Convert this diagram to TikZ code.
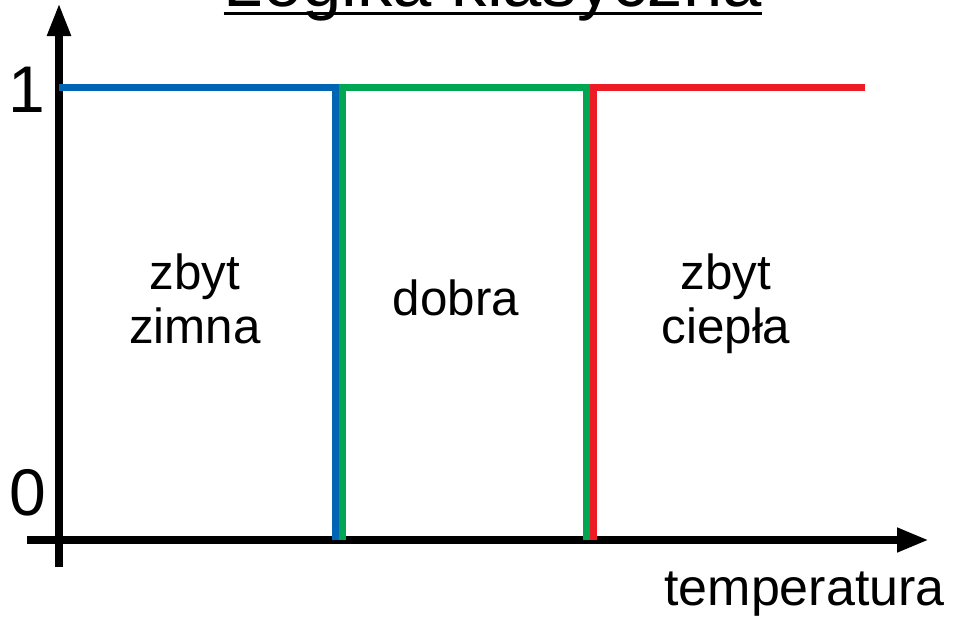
\documentclass[tikz,border=0pt]{standalone}
\usepackage{fontspec}
\setmainfont{Liberation Sans}
\usetikzlibrary{arrows.meta,calc}
\definecolor{cblue}{RGB}{0,102,179}
\definecolor{cgreen}{RGB}{0,166,81}
\definecolor{cred}{RGB}{237,28,36}
\begin{document}
\begin{tikzpicture}[x=0.75pt,y=-0.75pt,
  axis/.style={line width=6pt},
  curve/.style={line width=5.25pt, line join=miter},
  lbl/.style={inner sep=0pt, font=\fontsize{37}{40.5}\selectfont, align=center},
  num/.style={inner sep=0pt, font=\fontsize{49.5}{50}\selectfont}]
\useasboundingbox (0,0) rectangle (954,622);
% axes
\coordinate (ybot) at (59,567);
\coordinate (ytop) at (59,3);
\coordinate (xl) at (27,540);
\coordinate (xr) at (929,540);
\draw[axis,-{Triangle[length=24.75pt,width=16.5pt]}] (ybot) -- (ytop);
\draw[axis,-{Triangle[length=24pt,width=17pt]}] (xl) -- (xr);
% membership functions
\coordinate (b1) at (59,87);
\coordinate (b2) at (335,87);
\coordinate (b3) at (335,540);
\coordinate (g1) at (342,540);
\coordinate (g2) at (342,87);
\coordinate (g3) at (586,87);
\coordinate (g4) at (586,540);
\coordinate (r1) at (593,540);
\coordinate (r2) at (593,87);
\coordinate (r3) at (865,87);
\draw[curve,cblue] (b1) -- (b2) -- (b3);
\draw[curve,cgreen] (g1) -- (g2) -- (g3) -- (g4);
\draw[curve,cred] (r1) -- (r2) -- (r3);
% labels
\node[lbl, anchor=north] (zimna) at (195,253) {zbyt\\zimna};
\node[lbl, anchor=base] (dobra) at (456,315) {dobra};
\node[lbl, anchor=north] (ciepla) at (726,253) {zbyt\\ciepła};
\node[num, anchor=base] (one) at (27,112) {1};
\node[num, anchor=base] (zero) at (28,515) {0};
\node[inner sep=0pt, anchor=base, font=\fontsize{39}{40}\selectfont] (temp) at (804.5,605) {temperatura};
\node[inner sep=0pt, anchor=base, font=\fontsize{53}{54}\selectfont] (title) at (493,6) {Logika klasyczna};
\draw[line width=2.25pt] ($(title.base west)+(0,7)$) -- ($(title.base east)+(0,7)$);
\end{tikzpicture}
\end{document}
